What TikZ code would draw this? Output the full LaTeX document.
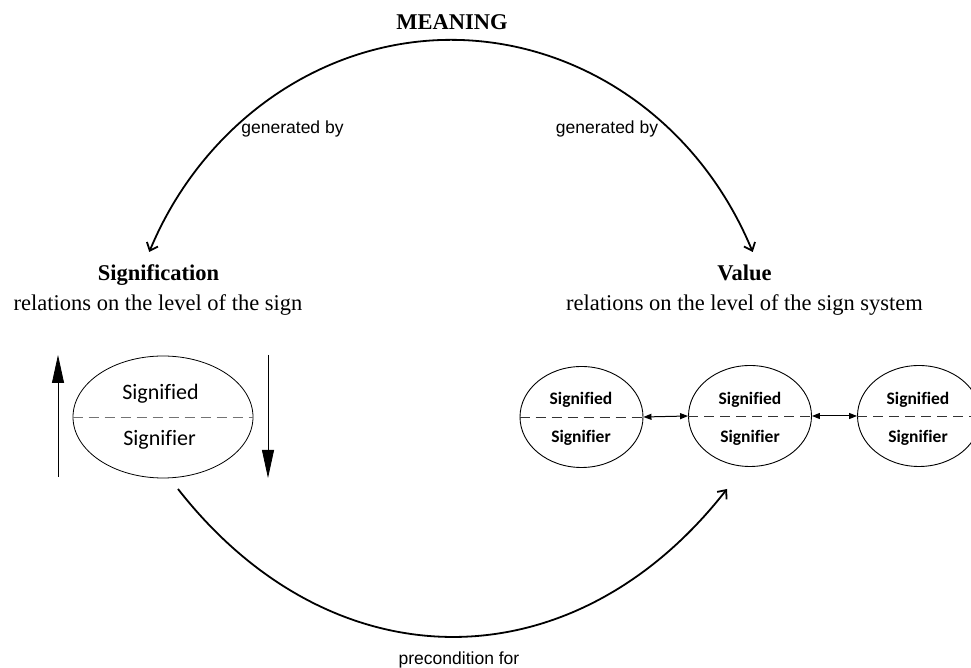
\documentclass[tikz,border=0pt]{standalone}
\usepackage{fontspec}
\setmainfont{Liberation Serif}
\newfontfamily\labelfont{Liberation Sans}
\newfontfamily\signfont[Ligatures=NoCommon]{Carlito}
\usetikzlibrary{arrows.meta,shapes.geometric}

\tikzset{
  heading/.style={font=\fontsize{22.5}{27}\selectfont\bfseries, anchor=base, inner sep=0pt},
  subline/.style={font=\fontsize{22.5}{27}\selectfont, anchor=base, inner sep=0pt},
  arclabel/.style={font=\labelfont\fontsize{17.5}{21}\selectfont, anchor=base, inner sep=0pt},
  bigsign/.style={draw, ellipse, line width=0.8pt, minimum width=180pt, minimum height=122pt, inner sep=0pt},
  smallsign/.style={draw, ellipse, line width=0.9pt, minimum width=123pt, minimum height=101pt, inner sep=0pt},
  bigtext/.style={font=\signfont\fontsize{22}{26}\selectfont, anchor=base, inner sep=0pt},
  smalltext/.style={font=\signfont\bfseries\fontsize{17.5}{20}\selectfont, anchor=base, inner sep=0pt},
  mainarc/.style={line width=1.8pt, {Straight Barb[length=7pt,width=12pt,line width=1.8pt]}-{Straight Barb[length=7pt,width=12pt,line width=1.8pt]}},
  lowarc/.style={line width=1.8pt, -{Straight Barb[length=7pt,width=12pt,line width=1.8pt]}},
  levelarrow/.style={line width=0.8pt, -{Triangle[length=28pt,width=12pt]}},
  linkarrow/.style={line width=1pt, {Triangle[length=8pt,width=6pt]}-{Triangle[length=8pt,width=6pt]}},
  splitline/.style={line width=0.8pt, dash pattern=on 10pt off 6pt},
}

\begin{document}
\begin{tikzpicture}[x=1pt,y=1pt]
\useasboundingbox (0,0) rectangle (971,668);
\clip (0,0) rectangle (971,668);

% top label and the two "generated by" branches
\node[heading] (meaning) at (452,638) {MEANING};
\node[arclabel] (genL) at (292.5,534) {generated by};
\node[arclabel] (genR) at (607,534) {generated by};

\coordinate (toValue) at (752.7,416);
\coordinate (toSignif) at (149.3,416);
\draw[mainarc] (toValue) arc[start angle=24.27, end angle=155.73, x radius=331, y radius=360];

% headings of the two kinds of relation
\node[heading] (signification) at (158.5,387) {Signification};
\node[subline] (signLevel) at (158,357) {relations on the level of the sign};
\node[heading] (value) at (744.5,387) {Value};
\node[subline] (systemLevel) at (744.5,357) {relations on the level of the sign system};

% single sign
\node[bigsign] (sign) at (163,251) {};
\draw[splitline, black!55] (sign.west) -- (sign.east);
\node[bigtext] (sdL) at (160.5,268) {Signified};
\node[bigtext] (srL) at (159.5,222) {Signifier};
\coordinate (upStart) at (58,191);
\coordinate (upEnd) at (58,313);
\coordinate (downStart) at (268,313);
\coordinate (downEnd) at (268,190);
\draw[levelarrow] (upStart) -- (upEnd);
\draw[levelarrow] (downStart) -- (downEnd);

% sign system
\node[smallsign] (s1) at (581.5,251) {};
\node[smallsign] (s2) at (750,252) {};
\node[smallsign] (s3) at (919,252) {};
\foreach \s in {s1,s2,s3}{
  \draw[splitline, black!80] (\s.west) -- (\s.east);
}
\node[smalltext] (sd1) at (581,263) {Signified};
\node[smalltext] (sr1) at (581,225) {Signifier};
\node[smalltext] (sd2) at (750,263) {Signified};
\node[smalltext] (sr2) at (750,225) {Signifier};
\node[smalltext] (sd3) at (918,263) {Signified};
\node[smalltext] (sr3) at (918,225) {Signifier};
\draw[linkarrow] (s1.east) -- (s2.west);
\draw[linkarrow] (s2.east) -- (s3.west);

% lower branch
\coordinate (fromSign) at (178,179);
\coordinate (toSystem) at (727,179);
\draw[lowarc] (fromSign) .. controls (332,-18) and (573,-18) .. (toSystem);
\node[arclabel] (precond) at (459,3) {precondition for};
\end{tikzpicture}
\end{document}
